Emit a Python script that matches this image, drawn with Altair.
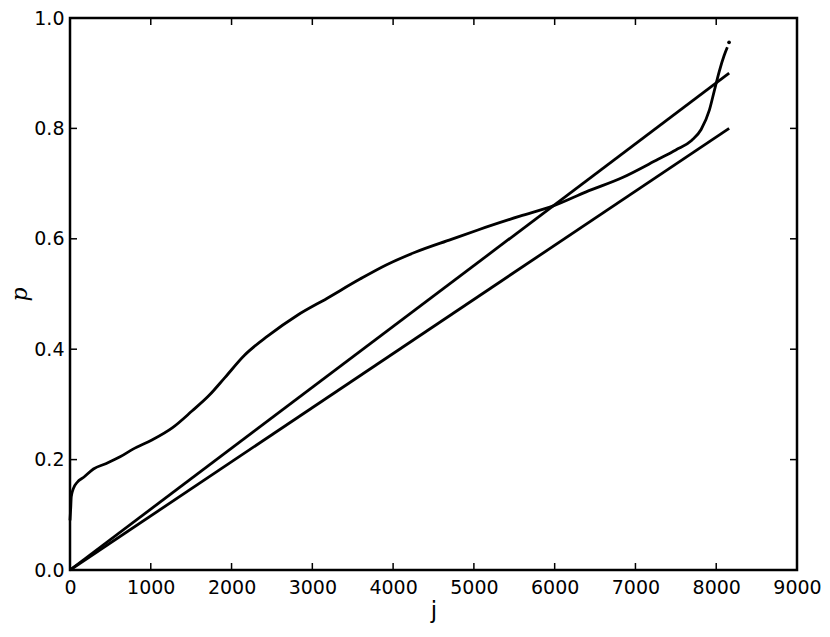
import altair as alt
import pandas as pd

# curve
curve_j = [0, 8, 16, 40, 90, 170, 290, 450, 620, 780, 1020, 1270, 1510, 1720,
           1920, 2160, 2450, 2820, 3180, 3590, 3920, 4280, 4720, 5050, 5570,
           5990, 6390, 6840, 7280, 7500, 7695, 7813, 7915, 7976, 8037, 8098, 8138]
curve_p = [0.09, 0.11, 0.133, 0.147, 0.159, 0.168, 0.183, 0.193, 0.205, 0.219,
           0.236, 0.258, 0.288, 0.316, 0.349, 0.389, 0.424, 0.462, 0.492, 0.527,
           0.553, 0.576, 0.599, 0.616, 0.641, 0.660, 0.685, 0.711, 0.744, 0.761,
           0.778, 0.798, 0.833, 0.868, 0.903, 0.932, 0.947]
end_dot_j = [8159]
end_dot_p = [0.956]

# straight reference lines
line_j = [0, 8160]
upper_p = [0.0, 0.9]
lower_p = [0.0, 0.8]

x_ticks = [0, 1000, 2000, 3000, 4000, 5000, 6000, 7000, 8000, 9000]
y_ticks = [0.0, 0.2, 0.4, 0.6, 0.8, 1.0]

W, H = 727, 552
TICK = 7

xs = alt.Scale(domain=[0, 9000], nice=False, zero=False)
ys = alt.Scale(domain=[0, 1.0], nice=False, zero=False)

curve_df = pd.DataFrame({"j": curve_j, "p": curve_p})
dot_df = pd.DataFrame({"j": end_dot_j, "p": end_dot_p})
lines_df = pd.DataFrame({
    "j": line_j + line_j,
    "p": upper_p + lower_p,
    "s": ["upper"] * 2 + ["lower"] * 2,
})
xt_df = pd.DataFrame({"t": x_ticks})
yt_df = pd.DataFrame({"t": y_ticks})

x_axis = alt.Axis(values=x_ticks, format="d", title="j", grid=False, ticks=False,
                  tickSize=0, domain=False, labelPadding=8, labelFontSize=19,
                  labelFont="DejaVu Sans", labelColor="black", titleFont="DejaVu Sans",
                  titleFontSize=23, titleFontWeight="normal", titleColor="black",
                  titlePadding=2, labelFlush=False)
y_axis = alt.Axis(values=y_ticks, format=".1f", title="p", grid=False, ticks=False,
                  tickSize=0, domain=False, labelPadding=6, labelFontSize=19,
                  labelFont="DejaVu Sans", labelColor="black", titleFont="DejaVu Serif",
                  titleFontSize=22, titleFontStyle="italic", titleFontWeight="normal",
                  titleColor="black", titlePadding=2, labelFlush=False)

curve = alt.Chart(curve_df).mark_line(color="black", strokeWidth=2.8,
                                      interpolate="monotone").encode(
    x=alt.X("j:Q", scale=xs, axis=x_axis),
    y=alt.Y("p:Q", scale=ys, axis=y_axis),
)
lines = alt.Chart(lines_df).mark_line(color="black", strokeWidth=2.8).encode(
    x=alt.X("j:Q", scale=xs),
    y=alt.Y("p:Q", scale=ys),
    detail="s:N",
)
dot = alt.Chart(dot_df).mark_circle(color="black", size=14, opacity=1).encode(
    x=alt.X("j:Q", scale=xs),
    y=alt.Y("p:Q", scale=ys),
)

tick_style = dict(color="black", strokeWidth=1.5)
bottom_ticks = alt.Chart(xt_df).mark_rule(**tick_style).encode(
    x=alt.X("t:Q", scale=xs), y=alt.value(H), y2=alt.value(H - TICK))
top_ticks = alt.Chart(xt_df).mark_rule(**tick_style).encode(
    x=alt.X("t:Q", scale=xs), y=alt.value(0), y2=alt.value(TICK))
left_ticks = alt.Chart(yt_df).mark_rule(**tick_style).encode(
    y=alt.Y("t:Q", scale=ys), x=alt.value(0), x2=alt.value(TICK))
right_ticks = alt.Chart(yt_df).mark_rule(**tick_style).encode(
    y=alt.Y("t:Q", scale=ys), x=alt.value(W), x2=alt.value(W - TICK))

chart = alt.layer(
    curve, lines, dot, bottom_ticks, top_ticks, left_ticks, right_ticks
).properties(
    width=W, height=H,
    autosize=alt.AutoSizeParams(type="none"),
    padding={"left": 62, "top": 10, "right": 25, "bottom": 58},
    background="white",
).configure_view(
    stroke="black", strokeWidth=2.5, fill="white"
)

chart.save("out.html", embed_options={"renderer": "svg", "actions": False})
